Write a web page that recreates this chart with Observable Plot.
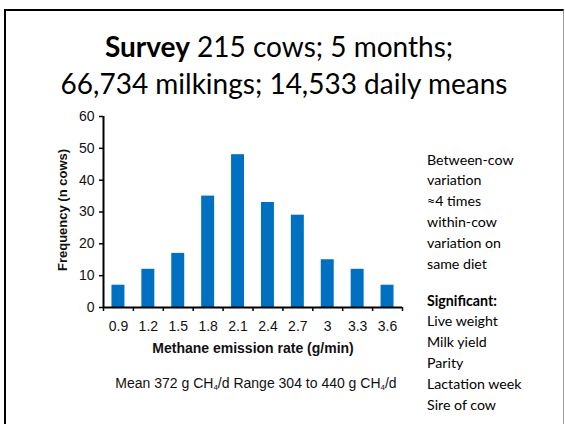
<!DOCTYPE html>
<html><head><meta charset="utf-8">
<script src="https://cdn.jsdelivr.net/npm/d3@7"></script>
<script src="https://cdn.jsdelivr.net/npm/@observablehq/plot@0.6"></script>
<style>
body{margin:0;background:#fff}
#slide{position:relative;width:565px;height:424px;overflow:hidden;background:#fff}
#frame{position:absolute;left:4px;top:9px;width:560px;height:440px;border-left:2.5px solid #000;border-top:2.5px solid #000;border-right:1px solid #999;box-sizing:border-box}
.t{position:absolute;font-family:Lato,"Open Sans",sans-serif;color:#000;white-space:nowrap}
.c{transform:translateX(-50%)}
.a{position:absolute;font-family:"Liberation Sans",Arial,sans-serif;color:#111;white-space:nowrap}
sub{font-size:8px;vertical-align:-2px}
#plot{position:absolute;left:0;top:0}
.blk div{height:20.8px;line-height:20.8px}
</style></head><body>
<div id="slide">
  <div id="frame"></div>
  <div id="plot"></div>
  <div class="t c" style="left:279px;top:28px;font-size:28px;line-height:36px"><b>Survey</b> 215 cows; 5 months;</div>
  <div class="t c" style="left:284px;top:65px;font-size:28px;line-height:36px">66,734 milkings; 14,533 daily means</div>
  <div class="t blk" id="notes1" style="left:427px;top:149.6px;font-size:14.2px"></div>
  <div class="t blk" id="notes2" style="left:427px;top:290.6px;font-size:14.2px"></div>
  <div class="a c" style="left:256px;top:375px;font-size:14px;line-height:16px">Mean 372 g CH<sub>4</sub>/d Range 304 to 440 g CH<sub>4</sub>/d</div>
</div>
<script>
const rates = [0.9, 1.2, 1.5, 1.8, 2.1, 2.4, 2.7, 3.0, 3.3, 3.6];
const rateLabels = ["0.9", "1.2", "1.5", "1.8", "2.1", "2.4", "2.7", "3", "3.3", "3.6"];
const cows = [7, 12, 17, 35, 48, 33, 29, 15, 12, 7];
const yTicks = [0, 10, 20, 30, 40, 50, 60];
const notesA = ["Between-cow", "variation", "\u22484 times", "within-cow", "variation on", "same diet"];
const notesB = ["Significant:", "Live weight", "Milk yield", "Parity", "Lactation week", "Sire of cow"];

const data = rates.map((r, i) => ({rate: r, n: cows[i], label: rateLabels[i]}));
const step = 0.3;
const boundaries = rates.map(r => r - step / 2).concat([rates[rates.length - 1] + step / 2]);
const barHalf = 0.065;

document.getElementById("notes1").innerHTML = notesA.map(s => `<div>${s}</div>`).join("");
document.getElementById("notes2").innerHTML = notesB.map((s, i) => i === 0 ? `<div><b>${s}</b></div>` : `<div>${s}</div>`).join("");

const chart = Plot.plot({
  width: 565,
  height: 424,
  marginLeft: 103,
  marginRight: 163,
  marginTop: 116,
  marginBottom: 117,
  style: {background: "transparent", fontFamily: "'Liberation Sans', Arial, sans-serif", fontSize: "14px", color: "#111"},
  x: {domain: [boundaries[0], boundaries[boundaries.length - 1]]},
  y: {domain: [0, 60]},
  marks: [
    Plot.rectY(data, {x1: d => d.rate - barHalf, x2: d => d.rate + barHalf, y: "n", fill: "#0070C0"}),
    Plot.axisY({ticks: yTicks, tickSize: 4, tickPadding: 5, label: null, stroke: "#000", strokeWidth: 1.5, fontSize: 14}),
    Plot.axisX({ticks: boundaries, tickSize: 4, tickFormat: () => "", label: null, stroke: "#000", strokeWidth: 1.5}),
    Plot.axisX({ticks: rates, tickSize: 0, tickPadding: 14, label: null, fontSize: 14,
      tickFormat: d => rateLabels[rates.findIndex(r => Math.abs(r - d) < 1e-9)]}),
    Plot.ruleY([0], {stroke: "#000", strokeWidth: 2}),
    Plot.ruleX([boundaries[0]], {stroke: "#000", strokeWidth: 2}),
    Plot.text(["Frequency (n cows)"], {frameAnchor: "left", textAnchor: "middle", rotate: -90, dx: -41, dy: -2, fontWeight: "bold", fontSize: 13, fill: "#111"}),
    Plot.text(["Methane emission rate (g/min)"], {frameAnchor: "bottom", dy: 45, fontWeight: "bold", fontSize: 14, fill: "#111"})
  ]
});
document.getElementById("plot").appendChild(chart);
</script>
</body></html>
